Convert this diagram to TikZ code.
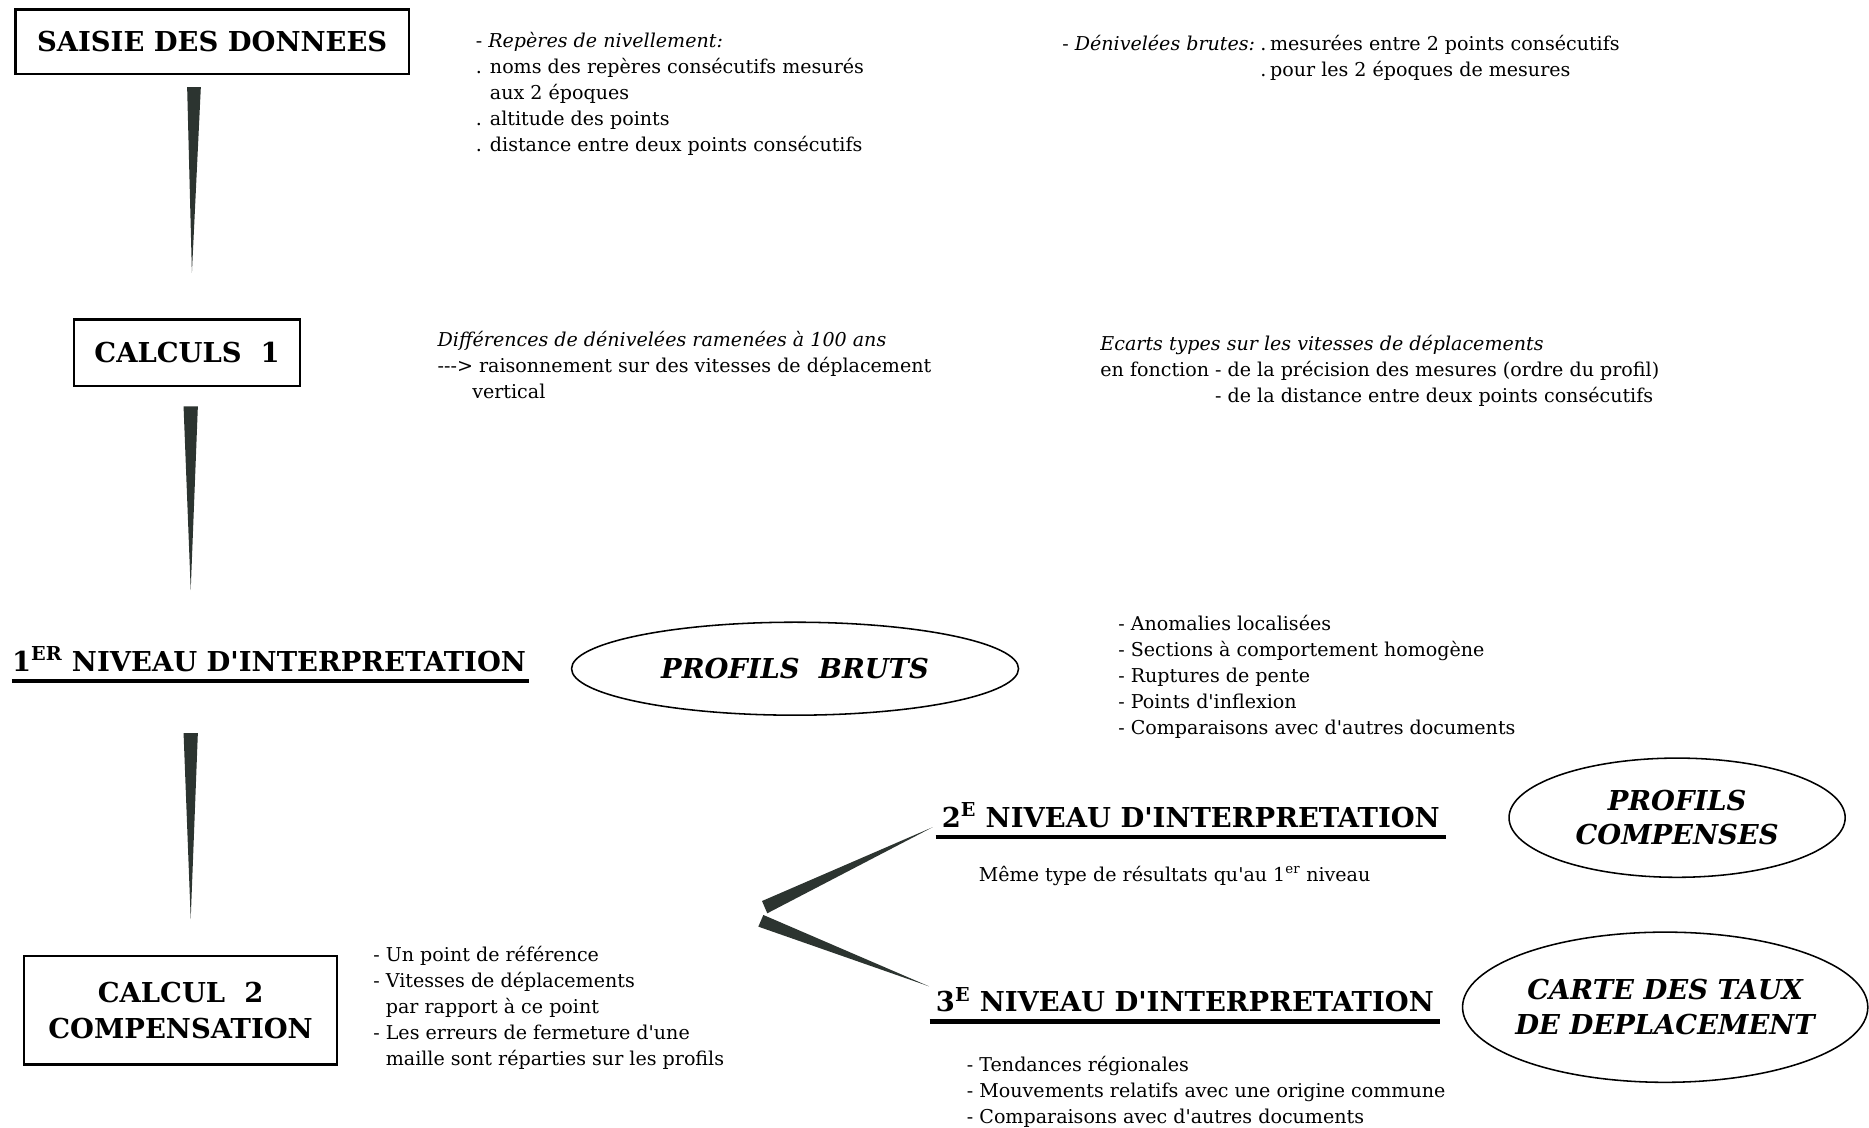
\documentclass[tikz,border=0pt]{standalone}
\usepackage{fontspec}
\setmainfont{DejaVu Serif}[Ligatures=TeXOff]
\usetikzlibrary{shapes.geometric,calc}
\definecolor{wedgecol}{RGB}{44,52,48}
\begin{document}
\begin{tikzpicture}[x=1pt,y=-1pt,
  hbox/.style={draw,line width=1.8pt,inner sep=0pt,font=\fontsize{23}{30}\selectfont\bfseries,align=center},
  ell/.style={draw,ellipse,line width=1.3pt,inner sep=0pt,font=\fontsize{23}{29}\selectfont\bfseries\itshape,align=center},
  lvl/.style={font=\fontsize{23}{28}\selectfont\bfseries,inner sep=0pt,anchor=base west},
  body/.style={font=\fontsize{16}{21.75}\selectfont,align=left,inner sep=0pt,anchor=north west,execute at begin node=\strut},
  wedgefill/.style={fill=wedgecol,draw=none},
  uline/.style={line width=3.5pt}]
\useasboundingbox (0,0) rectangle (1568,946);

% boxes
\node[hbox,minimum width=330pt,minimum height=54pt] (saisie) at (178,35) {SAISIE DES DONNEES};
\node[hbox,minimum width=190pt,minimum height=56pt] (calc1) at (157,296) {CALCULS\ \ 1};
\node[hbox,minimum width=263pt,minimum height=91pt] (calc2) at (151.5,847.5) {CALCUL\ \ 2\\COMPENSATION};

% ellipses
\node[ell,minimum width=375pt,minimum height=78pt] (bruts) at (667,561) {PROFILS\ \ BRUTS};
\node[ell,minimum width=282pt,minimum height=100pt] (comp) at (1407,686) {PROFILS\\COMPENSES};
\node[ell,inner xsep=-10pt,minimum width=340pt,minimum height=126pt] (carte) at (1397,845) {CARTE DES TAUX\\DE DEPLACEMENT};

% level headings
\node[lvl] (lvl1) at (10,563) {1\textsuperscript{ER} NIVEAU D'INTERPRETATION};
\draw[uline] ($(lvl1.base west)+(0,8)$) -- ($(lvl1.base east)+(2,8)$);
\node[lvl] (lvl2) at (790,694) {2\textsuperscript{E} NIVEAU D'INTERPRETATION};
\draw[uline] ($(lvl2.base west)+(-5,8)$) -- ($(lvl2.base east)+(5,8)$);
\node[lvl] (lvl3) at (785,849) {3\textsuperscript{E} NIVEAU D'INTERPRETATION};
\draw[uline] ($(lvl3.base west)+(-5,8)$) -- ($(lvl3.base east)+(5,8)$);

% text blocks (first baseline = y + 15.2)
\node[body] (t1) at (399,26.8) {- \textit{Repères de nivellement:}\\
. noms des repères consécutifs mesurés\\
\hphantom{. }aux 2 époques\\
. altitude des points\\
. distance entre deux points consécutifs};
\node[body] (t2) at (891,29.3) {- \textit{Dénivelées brutes:}\hspace{4.5pt}.\hspace{3pt}mesurées entre 2 points consécutifs\\
\hphantom{- \textit{Dénivelées brutes:}\hspace{4.5pt}}.\hspace{3pt}pour les 2 époques de mesures};
\node[body] (t3) at (367,277.8) {\textit{Différences de dénivelées ramenées à 100 ans}\\
-{}-{}-> raisonnement sur des vitesses de déplacement\\
\hspace*{29pt}vertical};
\node[body] (t4) at (923,280.8) {\textit{Ecarts types sur les vitesses de déplacements}\\
en fonction - de la précision des mesures (ordre du profil)\\
\hphantom{en fonction }- de la distance entre deux points consécutifs};
\node[body] (t5) at (938,515.8) {- Anomalies localisées\\
- Sections à comportement homogène\\
- Ruptures de pente\\
- Points d'inflexion\\
- Comparaisons avec d'autres documents};
\node[body] (t6) at (313,793.8) {- Un point de référence\\
- Vitesses de déplacements\\
\hphantom{- }par rapport à ce point\\
- Les erreurs de fermeture d'une\\
\hphantom{- }maille sont réparties sur les profils};
\node[body] (t7) at (821,723.8) {Même type de résultats qu'au 1\textsuperscript{er} niveau};
\node[body] (t8) at (811,885.8) {- Tendances régionales\\
- Mouvements relatifs avec une origine commune\\
- Comparaisons avec d'autres documents};

% tapered connectors
\coordinate (w1a) at (157,73);  \coordinate (w1b) at (168.5,73);  \coordinate (w1t) at (161,229);
\coordinate (w2a) at (154,341); \coordinate (w2b) at (166,341);  \coordinate (w2t) at (160,495);
\coordinate (w3a) at (154,615); \coordinate (w3b) at (166,615);  \coordinate (w3t) at (160,771);
\fill[wedgefill] (w1a) -- (w1b) -- (w1t) -- cycle;
\fill[wedgefill] (w2a) -- (w2b) -- (w2t) -- cycle;
\fill[wedgefill] (w3a) -- (w3b) -- (w3t) -- cycle;

% fork
\coordinate (fua) at (639.3,755.9); \coordinate (fub) at (643.7,766.2); \coordinate (fut) at (782.4,694);
\coordinate (fla) at (640.4,767.6); \coordinate (flb) at (636.2,777.4); \coordinate (flt) at (779.5,827.5);
\fill[wedgefill] (fua) -- (fub) -- (fut) -- cycle;
\fill[wedgefill] (fla) -- (flb) -- (flt) -- cycle;
\end{tikzpicture}
\end{document}
